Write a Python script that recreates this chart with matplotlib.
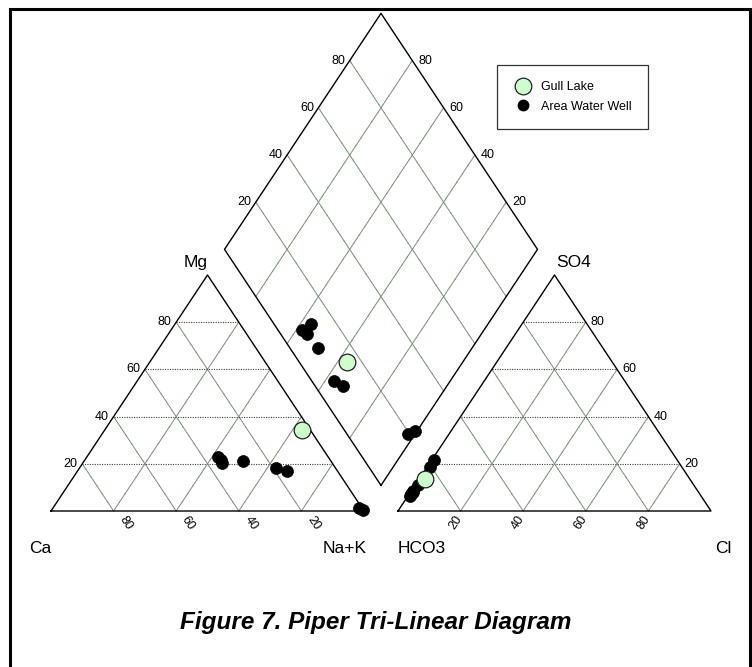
import numpy as np
import matplotlib
matplotlib.use("Agg")
import matplotlib.pyplot as plt
from matplotlib.lines import Line2D
from matplotlib.patches import Rectangle

plt.rcParams["font.family"] = ["Liberation Sans", "DejaVu Sans"]

# cation / anion percentages (meq %) for the area water wells
well_ca = [35.2, 35.0, 35.2, 28.1, 19.0, 16.2, 1.1, 0.1]
well_mg = [22.9, 21.5, 20.3, 21.2, 18.2, 16.9, 1.3, 0.6]
well_nak = [41.9, 43.5, 44.5, 50.7, 62.8, 66.9, 97.6, 99.3]
well_hco3 = [92.2, 88.0, 91.5, 91.0, 92.9, 91.1, 80.5, 77.8]
well_so4 = [7.0, 11.0, 7.8, 8.3, 6.5, 8.1, 18.6, 21.4]
well_cl = [0.8, 1.0, 0.7, 0.7, 0.6, 0.8, 0.9, 0.8]

# Gull Lake
lake_ca = [2.7]
lake_mg = [34.3]
lake_nak = [63.0]
lake_hco3 = [84.6]
lake_so4 = [13.6]
lake_cl = [1.8]

grid_vals = [20, 40, 60, 80]

GAP = 34 / 313     # gap between the two triangles (side = 1)
H = 236 / 313      # triangle height as drawn
PX = 1 / 313       # one pixel in data units


def cation_xy(ca, mg, nak):
    ca, mg, nak = (np.asarray(v, dtype=float) for v in (ca, mg, nak))
    tot = ca + mg + nak
    return nak / tot + 0.5 * mg / tot, H * mg / tot


def anion_xy(hco3, so4, cl):
    hco3, so4, cl = (np.asarray(v, dtype=float) for v in (hco3, so4, cl))
    tot = hco3 + so4 + cl
    return 1 + GAP + cl / tot + 0.5 * so4 / tot, H * so4 / tot


def diamond_xy(camg, so4cl):
    camg = np.asarray(camg, dtype=float) / 100
    so4cl = np.asarray(so4cl, dtype=float) / 100
    x = 1 + GAP / 2 + 0.5 * (so4cl - camg)
    y = GAP * H + H * (camg + so4cl)
    return x, y


def seg(ax, p, q, kind):
    xs, ys = [p[0], q[0]], [p[1], q[1]]
    if kind == "h":
        ax.plot(xs, ys, color="#404040", lw=0.8, ls=(0, (1, 1.2)), zorder=1)
    else:
        ax.plot(xs, ys, color="#858585", lw=0.7, zorder=1)
        ax.plot(xs, ys, color="#33cc33", lw=0.8, ls=(0, (1, 8)), alpha=0.85, zorder=1)


def main():
    fig = plt.figure(figsize=(7.52, 6.67), dpi=100)
    ax = fig.add_axes([0, 0, 1, 1])
    ax.set_xlim(-51 * PX, (752 - 51) * PX)
    ax.set_ylim(-(667 - 511) * PX, 511 * PX)
    ax.axis("off")

    # grid lines
    for v in grid_vals:
        f = v / 100
        seg(ax, cation_xy(1 - f, f, 0), cation_xy(0, f, 1 - f), "h")
        seg(ax, cation_xy(f, 0, 1 - f), cation_xy(f, 1 - f, 0), "s")
        seg(ax, cation_xy(1 - f, 0, f), cation_xy(0, 1 - f, f), "s")
        seg(ax, anion_xy(1 - f, f, 0), anion_xy(0, f, 1 - f), "h")
        seg(ax, anion_xy(f, 0, 1 - f), anion_xy(f, 1 - f, 0), "s")
        seg(ax, anion_xy(1 - f, 0, f), anion_xy(0, 1 - f, f), "s")
        seg(ax, diamond_xy(v, 0), diamond_xy(v, 100), "s")
        seg(ax, diamond_xy(0, v), diamond_xy(100, v), "s")

    # outlines
    tri_c = [cation_xy(1, 0, 0), cation_xy(0, 0, 1), cation_xy(0, 1, 0), cation_xy(1, 0, 0)]
    tri_a = [anion_xy(1, 0, 0), anion_xy(0, 0, 1), anion_xy(0, 1, 0), anion_xy(1, 0, 0)]
    dia = [diamond_xy(0, 0), diamond_xy(0, 100), diamond_xy(100, 100),
           diamond_xy(100, 0), diamond_xy(0, 0)]
    for shape in (tri_c, tri_a, dia):
        ax.plot([p[0] for p in shape], [p[1] for p in shape], color="black", lw=1.0, zorder=2)

    # tick labels
    tk = dict(fontsize=9, textcoords="offset points")
    for v in grid_vals:
        f = v / 100
        ax.annotate(str(v), cation_xy(1 - f, f, 0), xytext=(-3.5, 0), ha="right", va="center", **tk)
        ax.annotate(str(v), cation_xy(f, 0, 1 - f), xytext=(8.6, -9), ha="center", va="center",
                    rotation=-56.5, rotation_mode="anchor", **tk)
        ax.annotate(str(v), anion_xy(0, f, 1 - f), xytext=(3.5, 0), ha="left", va="center", **tk)
        ax.annotate(str(v), anion_xy(1 - f, 0, f), xytext=(-3.6, -8), ha="center", va="center",
                    rotation=56.5, rotation_mode="anchor", **tk)
        ax.annotate(str(v), diamond_xy(100, v), xytext=(-3, 0), ha="right", va="center", **tk)
        ax.annotate(str(v), diamond_xy(v, 100), xytext=(4.5, 0), ha="left", va="center", **tk)

    # corner labels
    lb = dict(fontsize=12.5, textcoords="offset points", va="center")
    ax.annotate("Ca", cation_xy(1, 0, 0), xytext=(0, -27), ha="right", **lb)
    ax.annotate("Na+K", cation_xy(0, 0, 1), xytext=(2, -27), ha="right", **lb)
    ax.annotate("Mg", cation_xy(0, 1, 0), xytext=(0, 9), ha="right", **lb)
    ax.annotate("HCO3", anion_xy(1, 0, 0), xytext=(0, -27), ha="left", **lb)
    ax.annotate("Cl", anion_xy(0, 0, 1), xytext=(3, -27), ha="left", **lb)
    ax.annotate("SO4", anion_xy(0, 1, 0), xytext=(1, 9), ha="left", **lb)

    # samples
    styles = [
        (well_ca, well_mg, well_nak, well_hco3, well_so4, well_cl,
         dict(s=8.6 ** 2, color="black", edgecolor="black", linewidths=0.5)),
        (lake_ca, lake_mg, lake_nak, lake_hco3, lake_so4, lake_cl,
         dict(s=12 ** 2, color="#ccffcc", edgecolor="#202020", linewidths=0.9)),
    ]
    for ca, mg, nak, hco3, so4, cl, kw in styles:
        camg = np.add(ca, mg)
        so4cl = np.add(so4, cl)
        for x, y in (cation_xy(ca, mg, nak), anion_xy(hco3, so4, cl), diamond_xy(camg, so4cl)):
            ax.scatter(x, y, zorder=3, clip_on=False, **kw)

    handles = [
        Line2D([], [], ls="none", marker="o", markersize=12, markerfacecolor="#ccffcc",
               markeredgecolor="#202020", markeredgewidth=0.9, label="Gull Lake"),
        Line2D([], [], ls="none", marker="o", markersize=7.5, color="black",
               label="Area Water Well"),
    ]
    leg = ax.legend(handles=handles, loc="upper left", bbox_to_anchor=(497 / 752, 1 - 65 / 667),
                    bbox_transform=fig.transFigure, borderaxespad=0, fontsize=9,
                    frameon=True, fancybox=False, edgecolor="black", borderpad=1.3,
                    labelspacing=0.6, handlelength=1.6, handletextpad=0.65)
    leg.get_frame().set_linewidth(0.9)

    # page border (open at the bottom)
    fig.add_artist(Rectangle((10 / 752, -0.05), 740 / 752, 1.05 - 9 / 667,
                             transform=fig.transFigure, fill=False, lw=2.2,
                             edgecolor="black"))

    fig.text(376 / 752, 1 - 622 / 667, "Figure 7. Piper Tri-Linear Diagram",
             ha="center", va="center", fontsize=17.5, fontweight="bold", fontstyle="italic")

    plt.savefig("out.png", dpi=100)
    plt.close(fig)


if __name__ == "__main__":
    main()
